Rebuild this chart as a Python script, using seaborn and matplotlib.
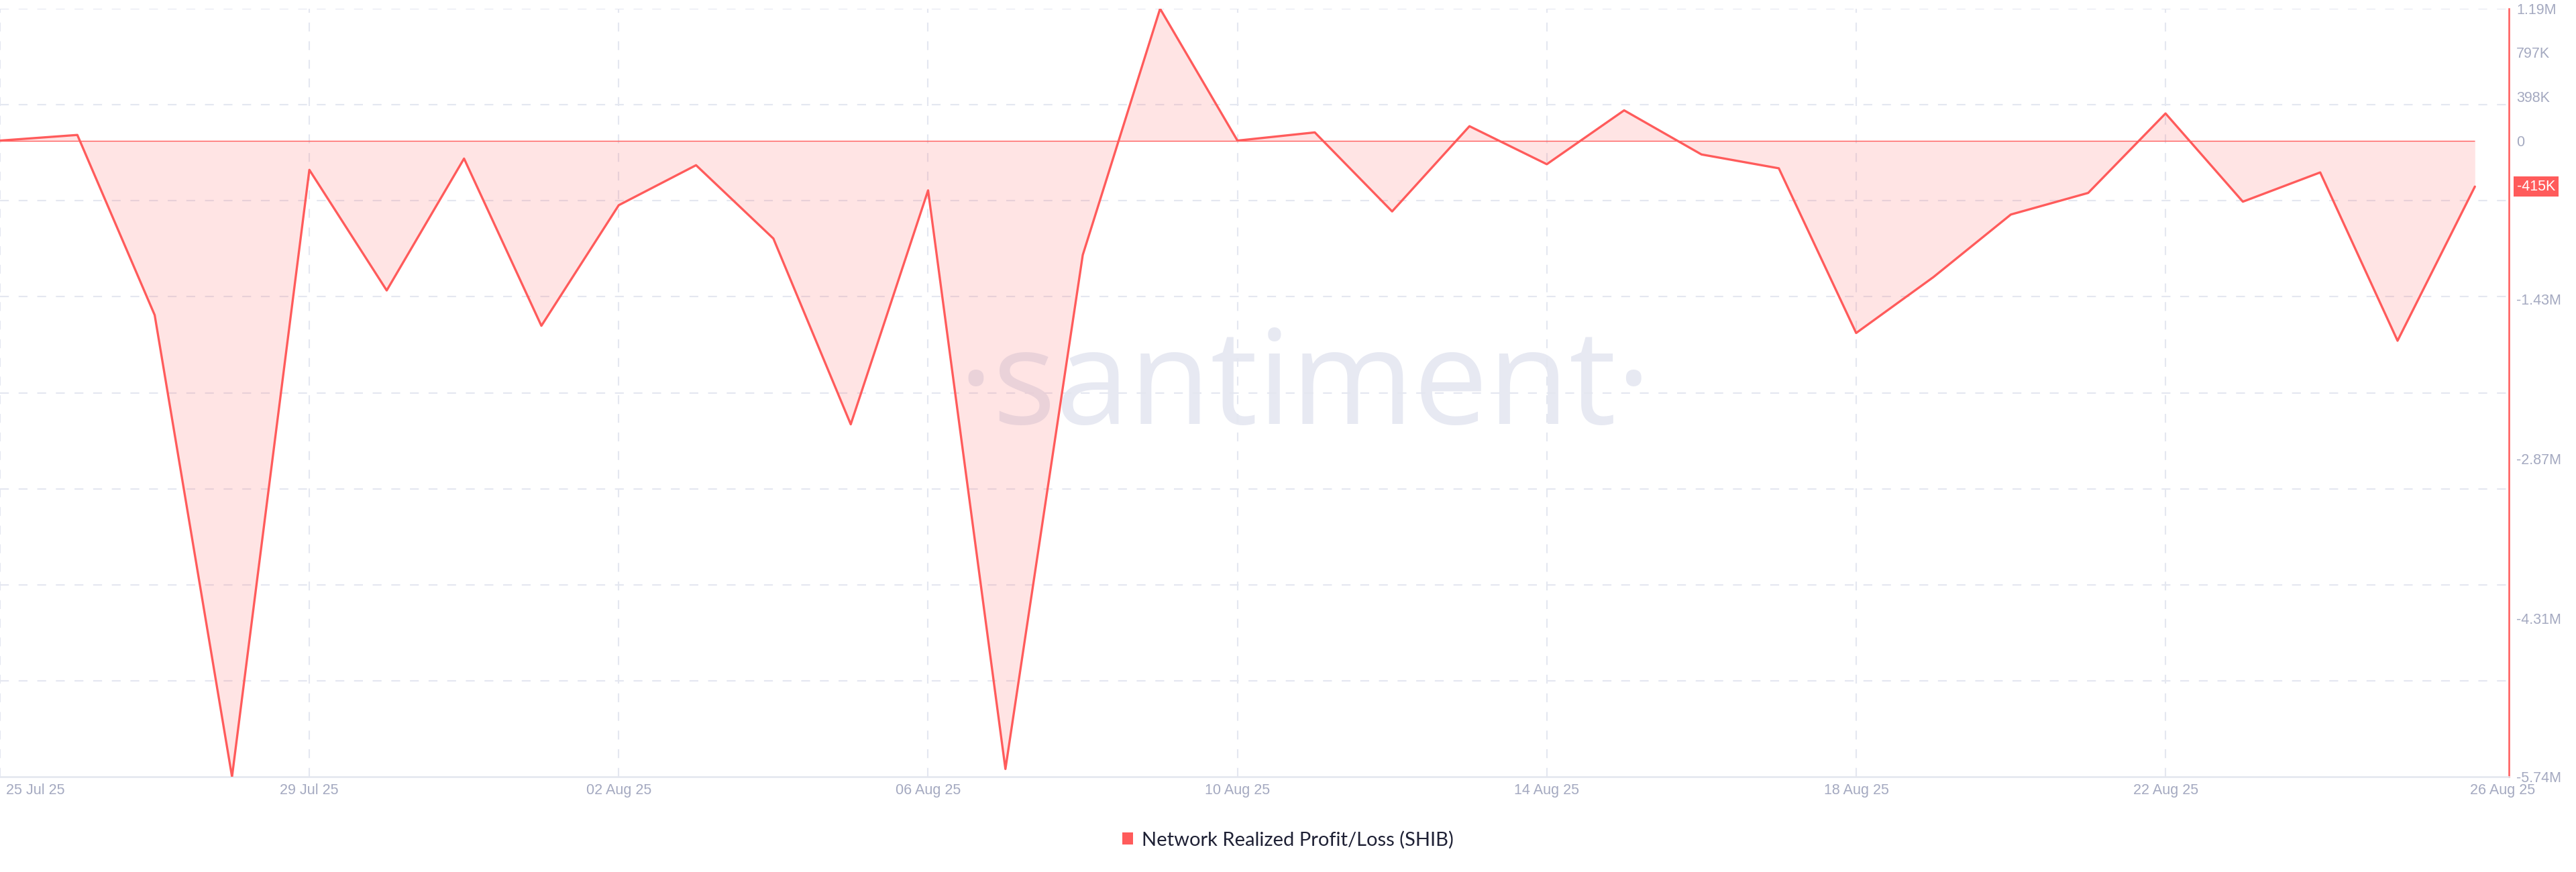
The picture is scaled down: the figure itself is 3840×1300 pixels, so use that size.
import numpy as np
import pandas as pd
import matplotlib
matplotlib.use("Agg")
import matplotlib.pyplot as plt
import matplotlib.transforms as mtransforms
from matplotlib.patches import Patch
import seaborn as sns

# ---------------- data ----------------
dates = pd.date_range("2025-07-25", "2025-08-26", freq="D")
values_m = [0.0, 0.051, -1.574, -5.74, -0.264, -1.352, -0.162, -1.671, -0.583, -0.222,
            -0.884, -2.56, -0.449, -5.67, -1.032, 1.19, 0.0, 0.074, -0.639, 0.130,
            -0.213, 0.273, -0.125, -0.25, -1.736, -1.231, -0.667, -0.472, 0.245, -0.551,
            -0.287, -1.806, -0.415]
values = np.array(values_m) * 1e6
ytick_vals = [1.19e6, 0.797e6, 0.398e6, 0, -1.43e6, -2.87e6, -4.31e6, -5.74e6]
ytick_labels = ["1.19M", "797K", "398K", "0", "-1.43M", "-2.87M", "-4.31M", "-5.74M"]
xtick_labels = ["25 Jul 25", "29 Jul 25", "02 Aug 25", "06 Aug 25", "10 Aug 25",
                "14 Aug 25", "18 Aug 25", "22 Aug 25"]
last_label = "26 Aug 25"
current_label = "-415K"
series_name = "Network Realized Profit/Loss (SHIB)"

RED = "#ff5b5b"
GRID = "#e4e7f0"
TICK = "#a4a9c0"

sns.set_theme(style="white")
plt.rcParams["font.family"] = ["Liberation Sans", "DejaVu Sans"]
plt.rcParams["lines.scale_dashes"] = False

W, H = 3840, 1300
fig = plt.figure(figsize=(W / 100, H / 100), dpi=100)
ax_left, ax_right = 0.0, 3740 / W
ax_bottom, ax_top = 1 - 1158 / H, 1 - 13 / H
ax = fig.add_axes([ax_left, ax_bottom, ax_right - ax_left, ax_top - ax_bottom])

ymin, ymax = -5.74e6, 1.19e6
x0 = dates[0]
x1 = dates[0] + pd.Timedelta(days=32.44)

# watermark
ax.text(0.52, 0.459, "·santiment·", transform=ax.transAxes, ha="center", va="baseline",
        fontsize=142, color="#e7e9f2", family=["Open Sans", "DejaVu Sans"], zorder=0)

# grid lines
dash = (0, (9.5, 10.5))
for gy in np.linspace(ymin, ymax, 9)[1:]:
    ax.axhline(gy, color=GRID, lw=1.5, ls=dash, zorder=1)
tick_dates = dates[::4][:-1]
for td in tick_dates:
    ax.axvline(td, color=GRID, lw=1.5, ls=dash, zorder=1)

# area + line
ax.fill_between(dates, values, 0, color=RED, alpha=0.16, lw=0, zorder=2)
ax.hlines(0, dates[0], dates[-1], color=RED, lw=1.0, zorder=3)
sns.lineplot(x=dates, y=values, color=RED, lw=2.4, ax=ax, zorder=4)

ax.set_xlim(x0, x1)
ax.set_ylim(ymin, ymax)

# spines
for s in ["left", "top"]:
    ax.spines[s].set_visible(False)
ax.spines["right"].set_color(RED)
ax.spines["right"].set_linewidth(1.8)
ax.spines["bottom"].set_color("#e3e6ef")
ax.spines["bottom"].set_linewidth(1.8)

# y ticks on right
ax.yaxis.tick_right()
ax.set_yticks(ytick_vals)
ax.set_yticklabels(ytick_labels)
ax.tick_params(axis="y", length=0, pad=8, labelsize=15.5, labelcolor=TICK)

# x ticks
ax.set_xticks(tick_dates)
ax.set_xticklabels(xtick_labels)
ax.tick_params(axis="x", length=0, pad=7, labelsize=15.5, labelcolor=TICK)
first = ax.get_xticklabels()[0]
first.set_horizontalalignment("left")
first.set_transform(first.get_transform() +
                    mtransforms.ScaledTranslation(9 / 100, 0, fig.dpi_scale_trans))
ax.set_xlabel("")
ax.set_ylabel("")

blend_x = mtransforms.blended_transform_factory(ax.transData, ax.transAxes)
ax.text(dates[-1] + pd.Timedelta(hours=8.5), -0.0175, last_label, transform=blend_x,
        ha="center", va="center", fontsize=15.5, color=TICK, clip_on=False)

# current value tag
blend_y = mtransforms.blended_transform_factory(ax.transAxes, ax.transData)
ax.annotate(current_label, xy=(1.0, values[-1]), xycoords=blend_y,
            xytext=(8.5, 0), textcoords="offset points", ha="left", va="center",
            fontsize=15.5, color="white", annotation_clip=False,
            bbox=dict(boxstyle="square,pad=0.22", fc=RED, ec="none"))

# legend
handles = [Patch(facecolor=RED, edgecolor="none", label=series_name)]
fig.legend(handles=handles, loc="center", bbox_to_anchor=(0.5, 1 - 1252 / H), frameon=False,
           labelcolor="#1f2135", handlelength=0.55, handleheight=0.55,
           handletextpad=0.45, prop={"family": ["Lato", "DejaVu Sans"], "size": 21})

fig.savefig("out.png", dpi=100)
